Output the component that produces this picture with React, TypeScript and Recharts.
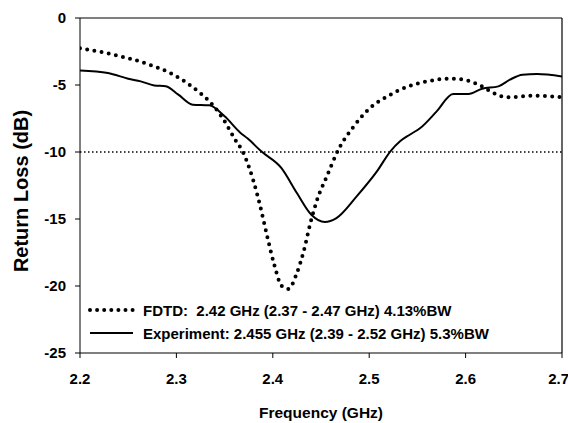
import React from 'react';
import { LineChart, Line, XAxis, YAxis, ReferenceLine } from 'recharts';

const fdtdFreq = [2.2, 2.235, 2.27, 2.297, 2.311, 2.325, 2.338, 2.349, 2.361, 2.369, 2.379, 2.387, 2.395, 2.402, 2.409, 2.416, 2.425, 2.432, 2.439, 2.446, 2.456, 2.468, 2.484, 2.499, 2.52, 2.539, 2.56, 2.584, 2.598, 2.615, 2.631, 2.643, 2.67, 2.7];
const fdtdLoss = [-2.26, -2.74, -3.43, -4.23, -4.85, -5.62, -6.52, -7.59, -9.08, -10.0, -11.94, -14.06, -16.54, -18.54, -19.98, -20.22, -19.03, -17.42, -15.3, -13.56, -11.82, -9.83, -8.09, -6.84, -5.8, -5.15, -4.73, -4.53, -4.6, -5.03, -5.67, -5.92, -5.8, -5.92];

const expFreq = [2.2, 2.229, 2.25, 2.263, 2.277, 2.289, 2.302, 2.317, 2.334, 2.35, 2.366, 2.374, 2.388, 2.409, 2.425, 2.44, 2.454, 2.466, 2.487, 2.508, 2.522, 2.532, 2.542, 2.553, 2.57, 2.587, 2.603, 2.617, 2.634, 2.646, 2.659, 2.674, 2.7];
const expLoss = [-3.91, -4.1, -4.53, -4.73, -5.03, -5.1, -5.72, -6.47, -6.52, -7.34, -8.54, -9.0, -9.95, -11.2, -13.06, -14.68, -15.22, -14.93, -13.31, -11.45, -9.95, -9.2, -8.71, -8.21, -6.97, -5.67, -5.67, -5.28, -5.1, -4.6, -4.23, -4.18, -4.36];

const xTicks = [2.2, 2.3, 2.4, 2.5, 2.6, 2.7];
const yTicks = [0, -5, -10, -15, -20, -25];

const legendLabels = ['FDTD:  2.42 GHz (2.37 - 2.47 GHz) 4.13%BW', 'Experiment: 2.455 GHz (2.39 - 2.52 GHz) 5.3%BW'];
const xTitle = 'Frequency (GHz)';
const yTitle = 'Return Loss (dB)';

const fdtdData = fdtdFreq.map((f, i) => ({ f, v: fdtdLoss[i] }));
const expData = expFreq.map((f, i) => ({ f, v: expLoss[i] }));

const FONT = '"Liberation Sans", Arial, sans-serif';
const tickStyle = { fontFamily: FONT, fontWeight: 700, fontSize: 15, fill: '#000' };

export default function App() {
  return (
    <div style={{ position: 'absolute', left: 0, top: 0, width: 568, height: 423, background: '#fff' }}>
      <LineChart width={568} height={423} margin={{ top: 18, right: 6, bottom: 0, left: 0 }}>
        <XAxis
          type="number"
          dataKey="f"
          domain={[2.2, 2.7]}
          ticks={xTicks}
          allowDataOverflow
          tickSize={5}
          tickMargin={15}
          height={70}
          stroke="#000"
          tick={tickStyle}
          tickFormatter={(v: number) => v.toFixed(1)}
        />
        <YAxis
          type="number"
          domain={[-25, 0]}
          ticks={yTicks}
          allowDataOverflow
          width={80}
          tickSize={5}
          tickMargin={9}
          stroke="#000"
          tick={tickStyle}
        />
        <ReferenceLine y={0} stroke="#000" strokeWidth={1.2} />
        <ReferenceLine x={2.7} stroke="#000" strokeWidth={1.2} />
        <ReferenceLine y={-10} stroke="#000" strokeWidth={1.3} strokeDasharray="1.5 2.5" />
        <Line
          data={fdtdData}
          dataKey="v"
          type="monotone"
          stroke="#000"
          strokeWidth={4}
          strokeDasharray="0 7.3"
          strokeLinecap="round"
          dot={false}
          isAnimationActive={false}
        />
        <Line
          data={expData}
          dataKey="v"
          type="monotone"
          stroke="#000"
          strokeWidth={2}
          dot={false}
          isAnimationActive={false}
        />
      </LineChart>
      <svg width={568} height={423} style={{ position: 'absolute', left: 0, top: 0, pointerEvents: 'none' }}>
        <line x1={90} y1={310} x2={133} y2={310} stroke="#000" strokeWidth={4} strokeDasharray="0 7.1" strokeLinecap="round" />
        <line x1={90} y1={333} x2={133} y2={333} stroke="#000" strokeWidth={2} />
        <text x={143} y={315.5} style={{ whiteSpace: 'pre' }} fontFamily={FONT} fontWeight={700} fontSize={15} fill="#000">{legendLabels[0]}</text>
        <text x={143} y={338.5} style={{ whiteSpace: 'pre' }} fontFamily={FONT} fontWeight={700} fontSize={15} fill="#000">{legendLabels[1]}</text>
        <text x={321} y={418} textAnchor="middle" fontFamily={FONT} fontWeight={700} fontSize={15.5} fill="#000">{xTitle}</text>
        <text x={28} y={191} textAnchor="middle" transform="rotate(-90 28 191)" fontFamily={FONT} fontWeight={700} fontSize={20} fill="#000">{yTitle}</text>
      </svg>
    </div>
  );
}
